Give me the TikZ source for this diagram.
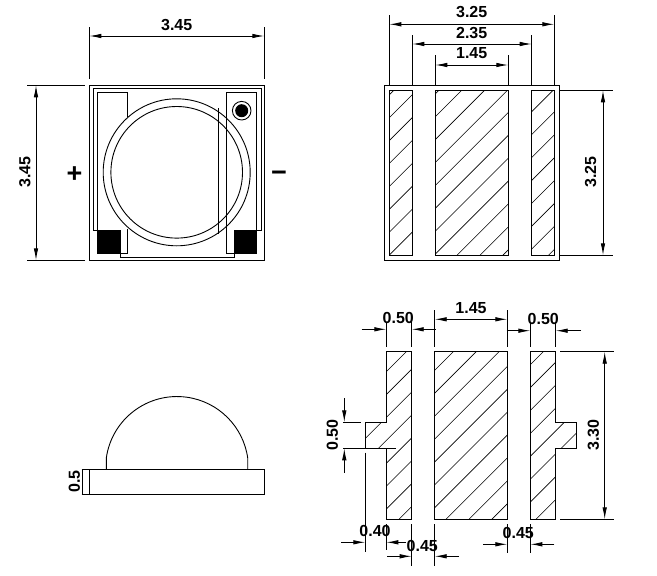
\documentclass[tikz,border=0pt]{standalone}
\usepackage{fontspec}
\setmainfont{Liberation Sans}
\usetikzlibrary{arrows.meta}
\newcommand{\hatchpad}[2]{%
	\begin{scope}
		\clip #1;
		\foreach \n in {-40,...,40}
			\draw[hatchline] ({#2+\n*22.9-600},600) -- ({#2+\n*22.9},0);
	\end{scope}
	\draw #1;
}
\tikzset{
	dimtext/.style={font=\fontsize{16}{16}\selectfont\bfseries, inner sep=0pt},
	vdimtext/.style={dimtext, rotate=90},
	signtext/.style={font=\fontsize{27}{27}\selectfont\bfseries, inner sep=0pt},
	hatchline/.style={line width=0.6pt},
	dimboth/.style={{Latex[length=12pt,width=4.5pt]}-{Latex[length=12pt,width=4.5pt]}},
	dimin/.style={-{Latex[length=12pt,width=4.5pt]}},
}
\begin{document}
\begin{tikzpicture}[x=1pt,y=-1pt,line width=0.9pt]
	\useasboundingbox (0,0) rectangle (657,576);
	% top view
	\draw (89.3,85.3) rectangle (264.3,260.3);
	\draw (97.3,230.3) -- (93.5,230.3) -- (93.5,88.5) -- (261,88.5) -- (261,230.3) -- (256.7,230.3);
	\draw (97.3,230.3) -- (97.3,92.3) -- (127.7,92.3) -- (127.7,117);
	\draw (127.7,229) -- (127.7,253.7) -- (97.3,253.7);
	\draw (226.3,92.3) rectangle (256.7,253.7);
	\fill (97.3,230.3) rectangle (121,253.7);
	\fill (234.3,230.3) rectangle (256.7,253.7);
	\draw (120.3,253.7) -- (120.3,257.3) -- (234.3,257.3) -- (234.3,253.7);
	\draw (218.3,108) -- (218.3,234);
	\draw (176.7,172.3) circle[radius=73.5];
	\draw (176.7,172.3) circle[radius=65.8];
	\draw (241.7,110.7) circle[radius=9.3];
	\fill (241.7,110.7) circle[radius=6.5];
	\node (plus) at (74.5,175) [signtext] {+};
	\node (minus) at (279,176) [signtext] {−};
	% top view dimensions
	\draw (89.3,27) -- (89.3,79);
	\draw (264.3,27) -- (264.3,79);
	\draw[dimboth] (89.3,36) -- (264.3,36);
	\node (wtop) at (176.7,25) [dimtext] {3.45};
	\draw (27,85.3) -- (85,85.3);
	\draw (27,260.3) -- (85,260.3);
	\draw[dimboth] (36,85.3) -- (36,260.3);
	\node (htop) at (25,172) [vdimtext] {3.45};
	% back view
	\draw (384.3,85.3) rectangle (559.3,260.3);
	\hatchpad{(389.3,90.3) rectangle (412.3,255.3)}{507}
	\hatchpad{(435.3,90.3) rectangle (508.3,255.3)}{552}
	\hatchpad{(531.7,90.3) rectangle (554.3,255.3)}{643.4}
	% back view dimensions
	\draw (389.3,15) -- (389.3,85.3);
	\draw (554.3,15) -- (554.3,85.3);
	\draw (412.3,35) -- (412.3,85.3);
	\draw (531.7,35) -- (531.7,85.3);
	\draw (435.3,55) -- (435.3,85.3);
	\draw (508.3,55) -- (508.3,85.3);
	\draw[dimboth] (389.3,24.3) -- (554.3,24.3);
	\draw[dimboth] (412.3,44) -- (531.7,44);
	\draw[dimboth] (435.3,65) -- (508.3,65);
	\node (wback) at (471.7,12.3) [dimtext] {3.25};
	\node (wrail) at (471.7,33) [dimtext] {2.35};
	\node (wpad) at (471.7,53.5) [dimtext] {1.45};
	\draw (559.3,90.3) -- (613,90.3);
	\draw (559.3,255.3) -- (613,255.3);
	\draw[dimboth] (603,90.3) -- (603,255.3);
	\node (hback) at (590.7,172) [vdimtext] {3.25};
	% side view
	\draw (89.3,469.3) rectangle (264.3,494.3);
	\draw (106.3,469.3) -- (106.3,458) arc[start angle=188,end angle=352,radius=71.4] -- (247.7,469.3);
	\draw (81.5,469.3) -- (89.3,469.3);
	\draw (81.5,494.3) -- (89.3,494.3);
	\draw (82.5,469.3) -- (82.5,494.3);
	\node (hbase) at (74.3,481.7) [vdimtext] {0.5};
	% footprint
	\hatchpad{(386.3,351.7) -- (411.7,351.7) -- (411.7,519.3) -- (386.3,519.3) -- (386.3,448.3) -- (365.3,448.3) -- (365.3,422.3) -- (386.3,422.3) -- cycle}{758}
	\hatchpad{(434.7,351.7) rectangle (507.3,519.3)}{805}
	\hatchpad{(530.3,351.7) -- (555.7,351.7) -- (555.7,422.3) -- (576.7,422.3) -- (576.7,448.3) -- (555.7,448.3) -- (555.7,519.3) -- (530.3,519.3) -- cycle}{895}
	% footprint dimensions
	\draw (386.3,322) -- (386.3,346.7);
	\draw (411.7,322) -- (411.7,346.7);
	\draw (434.7,310) -- (434.7,346.7);
	\draw (507.3,310) -- (507.3,346.7);
	\draw (530.3,322) -- (530.3,346.7);
	\draw (555.7,322) -- (555.7,346.7);
	\draw[dimin] (361.7,329.3) -- (386.3,329.3);
	\draw[dimin] (435.7,329.3) -- (411.7,329.3);
	\node (wleft) at (398.3,318.3) [dimtext] {0.50};
	\draw[dimboth] (434.7,319.3) -- (507.3,319.3);
	\node (wmid) at (471,308.3) [dimtext] {1.45};
	\draw[dimin] (506.7,330.7) -- (530.3,330.7);
	\draw[dimin] (581,330.7) -- (555.7,330.7);
	\node (wright) at (543.3,319.3) [dimtext] {0.50};
	\draw (560,351.7) -- (614.3,351.7);
	\draw (560,519.3) -- (614.3,519.3);
	\draw[dimboth] (604.7,351.7) -- (604.7,519.3);
	\node (hfoot) at (593.3,435) [vdimtext] {3.30};
	\draw (343,422.3) -- (360.7,422.3);
	\draw (343,448.3) -- (396,448.3);
	\draw[dimin] (344.3,398.3) -- (344.3,422.3);
	\draw[dimin] (344.3,472.7) -- (344.3,448.3);
	\node (htab) at (332.3,435) [vdimtext] {0.50};
	\draw (365.3,452.7) -- (365.3,551.7);
	\draw (386.3,524) -- (386.3,550);
	\draw (411.7,524) -- (411.7,566);
	\draw (434.7,524) -- (434.7,566);
	\draw (507.3,524) -- (507.3,553);
	\draw (530.3,524) -- (530.3,553);
	\draw[dimin] (341,542.3) -- (365.3,542.3);
	\draw[dimin] (406,542.3) -- (386.3,542.3);
	\node (wtab) at (375,531) [dimtext] {0.40};
	\draw[dimin] (387.3,556.3) -- (411.7,556.3);
	\draw[dimin] (459,556.3) -- (434.7,556.3);
	\node (gapleft) at (422.3,545.7) [dimtext] {0.45};
	\draw[dimin] (483.3,544.3) -- (507.3,544.3);
	\draw[dimin] (554.3,544.3) -- (530.3,544.3);
	\node (gapright) at (518.3,532.7) [dimtext] {0.45};
\end{tikzpicture}
\end{document}
